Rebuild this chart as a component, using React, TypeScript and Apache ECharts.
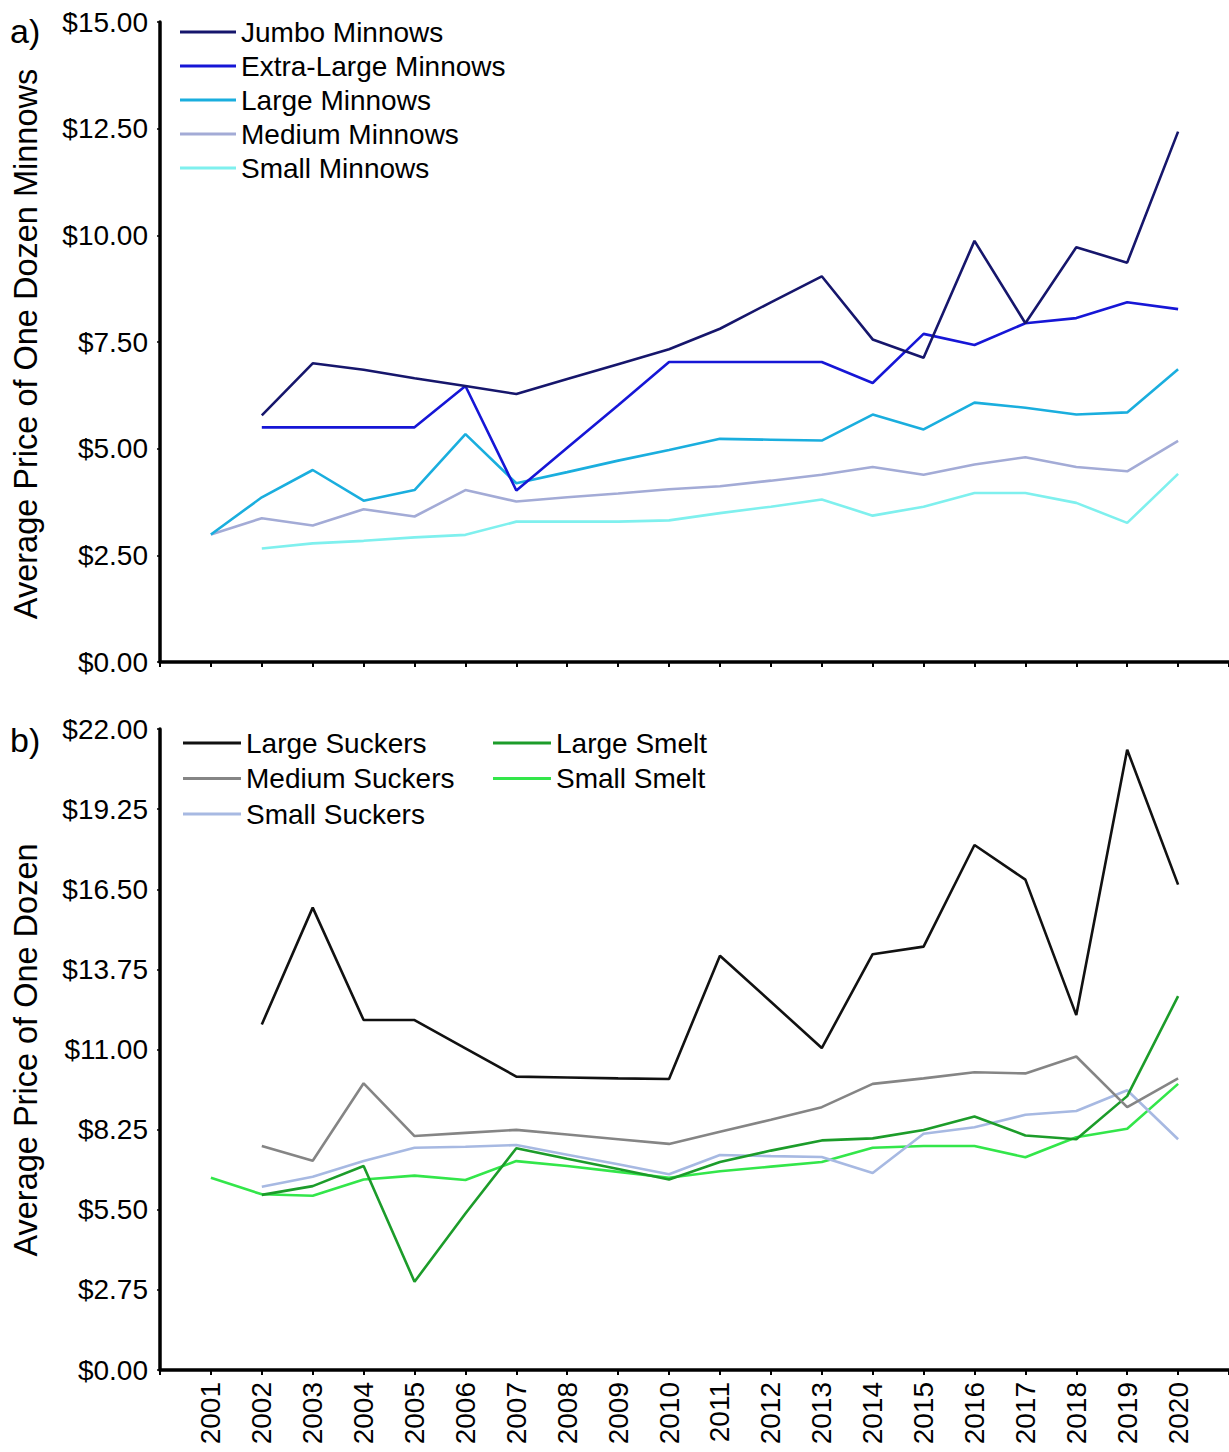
import React, { useEffect, useRef } from "react";
import * as echarts from "echarts";

// Survey years
const years = [2001, 2002, 2003, 2004, 2005, 2006, 2007, 2008, 2009, 2010, 2011, 2012, 2013, 2014, 2015, 2016, 2017, 2018, 2019, 2020];

// a) Minnow prices (USD per dozen)
const jumboMinnows = [null, 5.78, 7.0, 6.85, 6.65, 6.47, 6.28, 6.63, 6.98, 7.33, 7.81, 8.43, 9.04, 7.56, 7.13, 9.87, 7.94, 9.72, 9.36, 12.43];
const extraLargeMinnows = [null, 5.5, 5.5, 5.5, 5.5, 6.47, 4.02, 5.02, 6.02, 7.03, 7.03, 7.03, 7.03, 6.54, 7.69, 7.43, 7.94, 8.06, 8.43, 8.27];
const largeMinnows = [2.99, 3.86, 4.5, 3.78, 4.03, 5.34, 4.19, 4.45, 4.72, 4.97, 5.23, 5.21, 5.19, 5.8, 5.45, 6.08, 5.96, 5.8, 5.85, 6.86];
const mediumMinnows = [2.99, 3.37, 3.2, 3.58, 3.41, 4.03, 3.76, 3.86, 3.95, 4.05, 4.12, 4.25, 4.39, 4.57, 4.39, 4.63, 4.8, 4.57, 4.47, 5.18];
const smallMinnows = [null, 2.66, 2.78, 2.84, 2.92, 2.98, 3.29, 3.29, 3.29, 3.32, 3.49, 3.64, 3.81, 3.43, 3.64, 3.96, 3.96, 3.73, 3.26, 4.41];

// b) Sucker and smelt prices (USD per dozen)
const largeSuckers = [null, 11.86, 15.87, 12.01, 12.01, 11.04, 10.07, 10.04, 10.01, 9.99, 14.22, 12.64, 11.05, 14.27, 14.53, 18.02, 16.83, 12.18, 21.29, 16.66];
const mediumSuckers = [null, 7.69, 7.18, 9.84, 8.03, 8.14, 8.24, 8.08, 7.92, 7.76, 8.18, 8.59, 9.02, 9.82, 10.01, 10.22, 10.18, 10.76, 9.02, 10.01];
const smallSuckers = [null, 6.29, 6.63, 7.17, 7.63, 7.66, 7.72, 7.39, 7.06, 6.72, 7.38, 7.34, 7.31, 6.76, 8.11, 8.33, 8.76, 8.89, 9.6, 7.92];
const largeSmelt = [null, 6.01, 6.31, 7.0, 3.03, 5.37, 7.61, 7.25, 6.9, 6.54, 7.14, 7.53, 7.88, 7.95, 8.24, 8.7, 8.05, 7.92, 9.4, 12.83];
const smallSmelt = [6.6, 6.03, 5.98, 6.54, 6.67, 6.52, 7.17, 7.0, 6.8, 6.6, 6.82, 6.98, 7.14, 7.63, 7.69, 7.69, 7.3, 7.99, 8.28, 9.82];

const FONT = "'Liberation Sans', Arial, sans-serif";

const pairs = (vals: (number | null)[]) => years.map((y, i) => [y, vals[i]]);

const money = (v: number) => "$" + v.toFixed(2);

function makeX(gridIndex: number, showLabels: boolean) {
  return {
    type: "value",
    gridIndex,
    min: 2000,
    max: 2021,
    interval: 1,
    axisLine: { show: true, onZero: false, lineStyle: { color: "#000", width: 3.5 } },
    axisTick: { show: true, length: 5, lineStyle: { color: "#000", width: 2 } },
    splitLine: { show: false },
    axisLabel: {
      show: showLabels,
      rotate: 90,
      margin: 12,
      color: "#000",
      fontFamily: FONT,
      fontSize: 28,
      formatter: (v: number) => (v >= 2001 && v <= 2020 ? String(v) : ""),
    },
  };
}

function makeY(gridIndex: number, max: number, interval: number) {
  return {
    type: "value",
    gridIndex,
    min: 0,
    max,
    interval,
    axisLine: { show: true, lineStyle: { color: "#000", width: 3.5 } },
    axisTick: { show: true, length: 3, lineStyle: { color: "#000", width: 1.5 } },
    splitLine: { show: false },
    axisLabel: {
      margin: 12,
      color: "#000",
      fontFamily: FONT,
      fontSize: 28,
      formatter: money,
    },
  };
}

function line(name: string, vals: (number | null)[], color: string, axis: number) {
  return {
    name,
    type: "line",
    xAxisIndex: axis,
    yAxisIndex: axis,
    data: pairs(vals),
    showSymbol: false,
    symbol: "none",
    lineStyle: { color, width: 2.6 },
    itemStyle: { color },
    connectNulls: false,
  };
}

const legendText = { color: "#000", fontFamily: FONT, fontSize: 28 };

export default function App() {
  const ref = useRef<HTMLDivElement>(null);

  useEffect(() => {
    if (!ref.current) return;
    const chart = echarts.init(ref.current, undefined, { renderer: "svg" });
    chart.setOption({
      animation: false,
      backgroundColor: "#fff",
      grid: [
        { left: 160, top: 22, width: 1069, height: 640 },
        { left: 160, top: 729, width: 1069, height: 641 },
      ],
      xAxis: [makeX(0, false), makeX(1, true)],
      yAxis: [makeY(0, 15, 2.5), makeY(1, 22, 2.75)],
      legend: [
        {
          orient: "vertical",
          left: 175,
          top: 13,
          icon: "rect",
          itemWidth: 56,
          itemHeight: 3,
          itemGap: 6,
          textStyle: legendText,
          data: ["Jumbo Minnows", "Extra-Large Minnows", "Large Minnows", "Medium Minnows", "Small Minnows"],
        },
        {
          orient: "vertical",
          left: 178,
          top: 724,
          icon: "rect",
          itemWidth: 58,
          itemHeight: 3,
          itemGap: 7.5,
          textStyle: legendText,
          data: ["Large Suckers", "Medium Suckers", "Small Suckers"],
        },
        {
          orient: "vertical",
          left: 488,
          top: 724,
          icon: "rect",
          itemWidth: 58,
          itemHeight: 3,
          itemGap: 7.5,
          textStyle: legendText,
          data: ["Large Smelt", "Small Smelt"],
        },
      ],
      graphic: [
        {
          type: "text",
          left: 10,
          top: 14,
          style: { text: "a)", fill: "#000", font: `34px ${FONT}` },
        },
        {
          type: "text",
          left: 10,
          top: 723,
          style: { text: "b)", fill: "#000", font: `34px ${FONT}` },
        },
        {
          type: "text",
          x: 26,
          y: 344,
          rotation: Math.PI / 2,
          style: {
            text: "Average Price of One Dozen Minnows",
            fill: "#000",
            font: `32.5px ${FONT}`,
            align: "center",
            verticalAlign: "middle",
          },
        },
        {
          type: "text",
          x: 26,
          y: 1050,
          rotation: Math.PI / 2,
          style: {
            text: "Average Price of One Dozen",
            fill: "#000",
            font: `32.5px ${FONT}`,
            align: "center",
            verticalAlign: "middle",
          },
        },
      ],
      series: [
        line("Small Minnows", smallMinnows, "#7ff0ee", 0),
        line("Medium Minnows", mediumMinnows, "#a3abd6", 0),
        line("Large Minnows", largeMinnows, "#1aaede", 0),
        line("Extra-Large Minnows", extraLargeMinnows, "#1616d6", 0),
        line("Jumbo Minnows", jumboMinnows, "#16166c", 0),
        line("Small Smelt", smallSmelt, "#33e64a", 1),
        line("Small Suckers", smallSuckers, "#a7b9e2", 1),
        line("Large Smelt", largeSmelt, "#1c9c2a", 1),
        line("Medium Suckers", mediumSuckers, "#858585", 1),
        line("Large Suckers", largeSuckers, "#111111", 1),
      ],
    });
    return () => chart.dispose();
  }, []);

  return (
    <div
      ref={ref}
      style={{ position: "absolute", left: 0, top: 0, width: 1229, height: 1452, background: "#fff" }}
    />
  );
}
